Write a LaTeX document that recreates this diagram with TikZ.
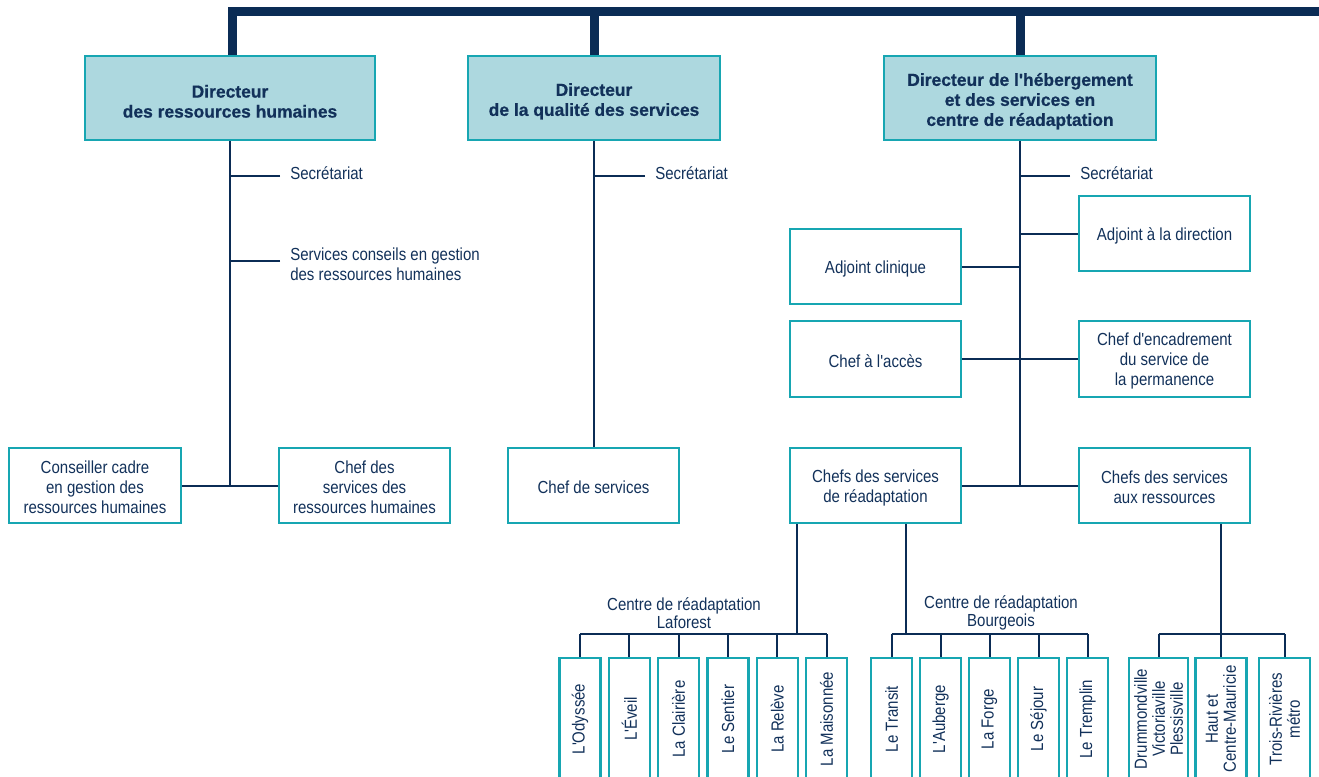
\documentclass[tikz,border=0pt]{standalone}
\usepackage{fontspec}
\setmainfont{Liberation Sans}[FakeStretch=0.86, Ligatures=TeXOff]
\newfontfamily\headfont{Liberation Sans}[Ligatures=TeXOff, BoldFeatures={FakeBold=0.6}]
\usetikzlibrary{calc}
\definecolor{navy}{HTML}{0B2C55}
\definecolor{ink}{HTML}{12315A}
\definecolor{boxteal}{HTML}{17A6B2}
\definecolor{boxfill}{HTML}{ADD8DF}
% invisible struts that lower the text block inside its box
\newcommand\hs{\rule{0pt}{14.5pt}}
\newcommand\us{\rule{0pt}{12.6pt}}

\begin{document}
\begin{tikzpicture}[x=0.75pt, y=-0.75pt,
  txt/.style={text=ink, font=\fontsize{13.1}{15}\selectfont},
  head/.style={draw=boxteal, fill=boxfill, line width=1.9pt, minimum height=84*0.75pt,
    align=center, text=ink, inner sep=2pt,
    font=\headfont\bfseries\fontsize{13.1}{15}\selectfont},
  unit/.style={draw=boxteal, line width=1.8pt, minimum width=171*0.75pt,
    minimum height=75*0.75pt, align=center, txt},
  side/.style={txt, inner xsep=7.5pt, inner ysep=0pt, align=left},
  site/.style={draw=boxteal, line width=1.8pt, rotate=90, minimum width=122*0.75pt,
    minimum height=41*0.75pt, inner sep=1pt, align=center, text=ink,
    font=\fontsize{13.1}{13.5}\selectfont},
  grp/.style={text=ink, align=center, inner sep=0pt, font=\fontsize{13.1}{12}\selectfont},
  link/.style={draw=navy, line width=1.5pt},
  spine/.style={draw=navy, line width=6.75pt}]

\useasboundingbox (0,0) rectangle (1319,776);
\clip (0,0) rectangle (1319,776);

% ---- directors ----
\node[head, minimum width=290*0.75pt] (dirRH) at (230,98) {\hs Directeur\\des ressources humaines};
\node[head, minimum width=252*0.75pt] (dirQS) at (594,98) {\hs Directeur\\de la qualité des services};
\node[head, minimum width=272*0.75pt] (dirHS) at (1020,98) {\hs Directeur de l'hébergement\\et des services en\\centre de réadaptation};

% ---- top spine ----
\coordinate (corner) at (232,11.5);
\coordinate (spineEnd) at (1330,11.5);
\draw[spine] (dirRH.north -| corner) -- (corner) -- (spineEnd);
\draw[spine] (dirQS.north |- corner) -- (dirQS.north);
\draw[spine] (dirHS.north |- corner) -- (dirHS.north);

% ---- human resources ----
\node[side, anchor=mid west] (secRH) at (280,176) {Secrétariat};
\draw[link] (secRH.mid west) -- (secRH.mid west -| dirRH.south);
\node[side, anchor=north west] (conseils) at (280,248) {Services conseils en gestion\\des ressources humaines};
\draw[link] ([yshift=-9.75pt]conseils.north west) coordinate (cj) -- (cj -| dirRH.south);
\node[unit, minimum width=172*0.75pt] (conseiller) at (95,485.5) {\us Conseiller cadre\\en gestion des\\ressources humaines};
\node[unit] (chefRH) at (364.5,485.5) {\us Chef des\\services des\\ressources humaines};
\draw[link] (dirRH.south) -- (dirRH.south |- conseiller.east);
\draw[link] (conseiller.east) -- (chefRH.west);

% ---- quality of services ----
\node[side, anchor=mid west] (secQS) at (645,176) {Secrétariat};
\draw[link] (secQS.mid west) -- (secQS.mid west -| dirQS.south);
\node[unit] (chefServ) at (593.5,485.5) {\us Chef de services};
\draw[link] (dirQS.south) -- (dirQS.south |- chefServ.north);

% ---- lodging and rehabilitation ----
\node[side, anchor=mid west] (secHS) at (1070,176) {Secrétariat};
\node[unit] (adjDir) at (1164.5,233.5) {\us Adjoint à la direction};
\node[unit] (adjCli) at (875.5,266.5) {\us Adjoint clinique};
\node[unit, minimum height=76*0.75pt] (acces) at (875.5,359) {\us Chef à l'accès};
\node[unit, minimum height=76*0.75pt] (encad) at (1164.5,359) {\us Chef d'encadrement\\du service de\\la permanence};
\node[unit] (readap) at (875.5,485.5) {\us Chefs des services\\de réadaptation};
\node[unit] (ress) at (1164.5,485.5) {\us Chefs des services\\aux ressources};
\draw[link] (dirHS.south) -- (dirHS.south |- readap.east);
\draw[link] (secHS.mid west) -- (secHS.mid west -| dirHS.south);
\draw[link] (adjDir.west) -- (adjDir.west -| dirHS.south);
\draw[link] (adjCli.east) -- (adjCli.east -| dirHS.south);
\draw[link] (acces.east) -- (encad.west);
\draw[link] (readap.east) -- (ress.west);

% ---- sites ----
\coordinate (lafJ) at (797,634);
\coordinate (bouJ) at (906,634);
\coordinate (resJ) at (1221,634);

\node[grp] (lafLbl) at (684,613) {Centre de réadaptation\\Laforest};
\node[grp] (bouLbl) at (1001,613) {Centre de réadaptation\\Bourgeois};

\node[site] (l1) at (580,719) {L'Odyssée};
\node[site] (l2) at (629.3,719) {L'Éveil};
\node[site] (l3) at (678.6,719) {La Clairière};
\node[site] (l4) at (727.9,719) {Le Sentier};
\node[site] (l5) at (777.2,719) {La Relève};
\node[site] (l6) at (826.5,719) {La Maisonnée};

\node[site] (b1) at (891.5,719) {Le Transit};
\node[site] (b2) at (940.5,719) {L'Auberge};
\node[site] (b3) at (989.5,719) {La Forge};
\node[site] (b4) at (1038.5,719) {Le Séjour};
\node[site] (b5) at (1087.5,719) {Le Tremplin};

\node[site, minimum height=59*0.75pt] (r1) at (1158.5,719) {Drummondville\\Victoriaville\\Plessisville};
\node[site, minimum height=51*0.75pt] (r2) at (1221,719) {Haut et\\Centre-Mauricie};
\node[site, minimum height=51*0.75pt] (r3) at (1284.5,719) {Trois-Rivières\\métro};

\draw[link] (readap.south -| lafJ) -- (lafJ);
\draw[link] (l1.east |- lafJ) -- (l6.east |- lafJ);
\foreach \s in {l1,l2,l3,l4,l5,l6} \draw[link] (\s.east |- lafJ) -- (\s.east);

\draw[link] (readap.south -| bouJ) -- (bouJ);
\draw[link] (b1.east |- bouJ) -- (b5.east |- bouJ);
\foreach \s in {b1,b2,b3,b4,b5} \draw[link] (\s.east |- bouJ) -- (\s.east);

\draw[link] (ress.south -| resJ) -- (r2.east);
\draw[link] (r1.east |- resJ) -- (r3.east |- resJ);
\foreach \s in {r1,r3} \draw[link] (\s.east |- resJ) -- (\s.east);

\end{tikzpicture}
\end{document}
